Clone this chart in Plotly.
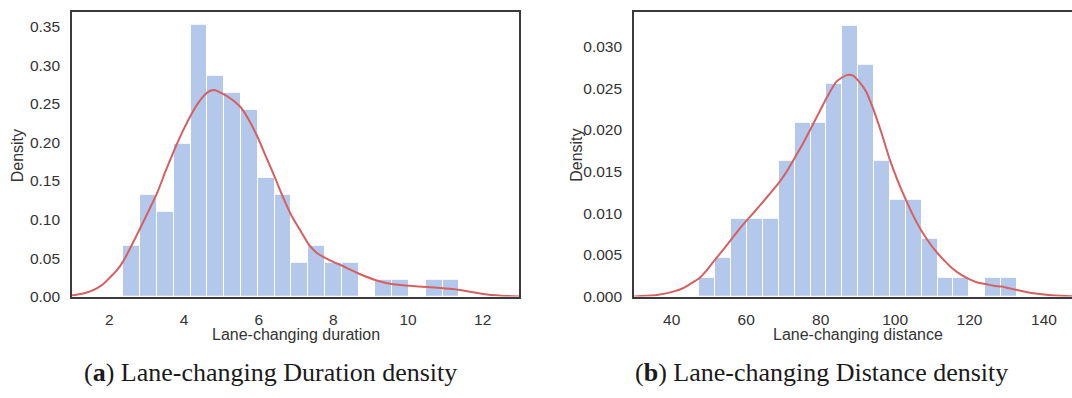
import numpy as np
import plotly.graph_objects as go

# ---------------- data ----------------
# (a) Lane-changing duration histogram: 20 equal bins from 2.375 to 11.375
duration_bin_min = 2.375
duration_bin_max = 11.375
duration_density = [0.066, 0.132, 0.110, 0.198, 0.352, 0.286, 0.264, 0.242, 0.154, 0.132,
                    0.044, 0.066, 0.044, 0.044, 0.0, 0.022, 0.022, 0.0, 0.022, 0.022]
duration_kde_x = [1.0, 1.3, 1.6, 1.83, 2.0, 2.2, 2.375, 2.55, 2.82, 3.05, 3.285, 3.5, 3.73,
                  3.96, 4.19, 4.42, 4.63, 4.8, 5.08, 5.3, 5.53, 5.75, 5.97, 6.2, 6.44, 6.66,
                  6.88, 7.1, 7.35, 7.55, 7.79, 8.0, 8.24, 8.45, 8.67, 9.16, 9.6, 10.05, 10.5,
                  10.94, 11.2, 11.39, 11.7, 12.01, 12.5, 13.0]
duration_kde_y = [0.0015, 0.004, 0.009, 0.016, 0.024, 0.034, 0.046, 0.062, 0.088, 0.111,
                  0.135, 0.162, 0.189, 0.214, 0.236, 0.254, 0.265, 0.268, 0.262, 0.255,
                  0.245, 0.228, 0.207, 0.181, 0.154, 0.128, 0.105, 0.087, 0.067, 0.057,
                  0.050, 0.045, 0.040, 0.035, 0.030, 0.021, 0.016, 0.014, 0.0125, 0.011,
                  0.0098, 0.0085, 0.006, 0.0034, 0.0012, 0.0003]

# (b) Lane-changing distance histogram: 20 equal bins from 47.41 to 132.75
distance_bin_min = 47.41
distance_bin_max = 132.75
distance_density = [0.00232, 0.00464, 0.00928, 0.00928, 0.00928, 0.01624, 0.02088, 0.02088,
                    0.02552, 0.03248, 0.02784, 0.01624, 0.0116, 0.0116, 0.00696, 0.00232,
                    0.00232, 0.0, 0.00232, 0.00232]
distance_kde_x = [29.9, 33.0, 36.0, 40.4, 43.0, 44.9, 47.4, 49.5, 51.6, 53.8, 55.9, 58.0,
                  60.1, 62.3, 64.4, 66.5, 68.7, 70.9, 73.0, 75.2, 77.3, 79.5, 81.6, 84.3,
                  87.0, 88.7, 90.1, 92.2, 94.3, 96.5, 98.6, 100.8, 103.0, 105.1, 107.2,
                  109.3, 111.4, 113.5, 115.6, 117.8, 119.9, 122.1, 124.4, 126.5, 128.6,
                  130.6, 132.7, 135.8, 138.9, 143.0, 147.5]
distance_kde_y = [0.00002, 0.0001, 0.0002, 0.0006, 0.0010, 0.0015, 0.0022, 0.0032, 0.0044,
                  0.0056, 0.0068, 0.0080, 0.0091, 0.0102, 0.0113, 0.0124, 0.0136, 0.0150,
                  0.0166, 0.0183, 0.0201, 0.0220, 0.0238, 0.0258, 0.02655, 0.0265, 0.0259,
                  0.0246, 0.0223, 0.0194, 0.0164, 0.0138, 0.0115, 0.0095, 0.0078, 0.0064,
                  0.0052, 0.0042, 0.0033, 0.0026, 0.0021, 0.0017, 0.0015, 0.0013, 0.0012,
                  0.0010, 0.0008, 0.0005, 0.0003, 0.00012, 0.00005]

duration_ticks = [2, 4, 6, 8, 10, 12]
duration_yticks = [0.0, 0.05, 0.10, 0.15, 0.20, 0.25, 0.30, 0.35]
distance_ticks = [40, 60, 80, 100, 120, 140]
distance_yticks = [0.0, 0.005, 0.010, 0.015, 0.020, 0.025, 0.030]

x_title_a = "Lane-changing duration"
x_title_b = "Lane-changing distance"
y_title = "Density"
caption_a = "(<b>a</b>) Lane-changing Duration density"
caption_b = "(<b>b</b>) Lane-changing Distance density"

# ---------------- styles ----------------
BAR_COLOR = "#B4C8EC"
KDE_COLOR = "#D65F5F"
FRAME = "#3a3a3a"
TEXT = "#333333"
FONT = "Liberation Sans, Arial, sans-serif"
SERIF = "Liberation Serif, Times New Roman, serif"

W, H = 1072, 398


def bins(lo, hi, n):
    edges = np.linspace(lo, hi, n + 1)
    return (edges[:-1] + edges[1:]) / 2, edges[1] - edges[0]


dc, dw = bins(duration_bin_min, duration_bin_max, len(duration_density))
sc, sw = bins(distance_bin_min, distance_bin_max, len(distance_density))

fig = go.Figure()
fig.add_trace(go.Bar(x=dc, y=duration_density, width=dw,
                     marker=dict(color=BAR_COLOR, line=dict(color="white", width=1)),
                     xaxis="x", yaxis="y", showlegend=False))
fig.add_trace(go.Scatter(x=duration_kde_x, y=duration_kde_y, mode="lines",
                         line=dict(color=KDE_COLOR, width=2, shape="spline", smoothing=0.6),
                         xaxis="x", yaxis="y", showlegend=False))
fig.add_trace(go.Bar(x=sc, y=distance_density, width=sw,
                     marker=dict(color=BAR_COLOR, line=dict(color="white", width=1)),
                     xaxis="x2", yaxis="y2", showlegend=False))
fig.add_trace(go.Scatter(x=distance_kde_x, y=distance_kde_y, mode="lines",
                         line=dict(color=KDE_COLOR, width=2, shape="spline", smoothing=0.6),
                         xaxis="x2", yaxis="y2", showlegend=False))

# plot-area geometry in pixels
L1, R1 = 72, 519.3
L2, R2 = 634, 1072
TOP, BOT = 12, 302.7

ydom = [1 - BOT / H, 1 - TOP / H]
tickfont = dict(family=FONT, size=15.5, color=TEXT)
titlefont = dict(family=FONT, size=16, color=TEXT)

common_x = dict(showgrid=False, zeroline=False, showline=True, linecolor=FRAME, linewidth=1.6,
                ticks="outside", ticklen=8, tickcolor="rgba(0,0,0,0)", tickfont=tickfont)
common_y = dict(showgrid=False, zeroline=False, showline=True, linecolor=FRAME, linewidth=1.6,
                ticks="outside", ticklen=7, tickcolor="rgba(0,0,0,0)", tickfont=tickfont)

fig.update_layout(
    width=W, height=H, margin=dict(l=0, r=0, t=0, b=0),
    paper_bgcolor="white", plot_bgcolor="white", barmode="overlay", bargap=0,
    xaxis=dict(domain=[L1 / W, R1 / W], range=[1.0, 12.98], tickvals=duration_ticks,
               anchor="y", mirror=True, **common_x),
    yaxis=dict(domain=ydom, range=[0, 0.3695], tickvals=duration_yticks, tickformat=".2f",
               anchor="x", mirror=True, **common_y),
    xaxis2=dict(domain=[L2 / W, R2 / W], range=[29.87, 147.52], tickvals=distance_ticks,
                anchor="y2", mirror=True, **common_x),
    yaxis2=dict(domain=ydom, range=[0, 0.03415], tickvals=distance_yticks, tickformat=".3f",
                anchor="x2", mirror=False, **common_y),
)

ann = []
ann.append(dict(text=x_title_a, x=(L1 + R1) / 2 / W, y=1 - 341 / H, xref="paper", yref="paper",
                showarrow=False, font=titlefont, xanchor="center", yanchor="middle"))
ann.append(dict(text=x_title_b, x=(L2 + 1081) / 2 / W, y=1 - 341 / H, xref="paper", yref="paper",
                showarrow=False, font=titlefont, xanchor="center", yanchor="middle"))
ann.append(dict(text=y_title, x=17.5 / W, y=1 - 159 / H, xref="paper", yref="paper", textangle=-90,
                showarrow=False, font=titlefont, xanchor="center", yanchor="middle"))
ann.append(dict(text=y_title, x=577 / W, y=1 - 159 / H, xref="paper", yref="paper", textangle=-90,
                showarrow=False, font=titlefont, xanchor="center", yanchor="middle"))
ann.append(dict(text=caption_a, x=270.5 / W, y=1 - 380 / H, xref="paper", yref="paper",
                showarrow=False, font=dict(family=SERIF, size=26, color="#1a1a1a"),
                xanchor="center", yanchor="middle"))
ann.append(dict(text=caption_b, x=821.5 / W, y=1 - 380 / H, xref="paper", yref="paper",
                showarrow=False, font=dict(family=SERIF, size=26, color="#1a1a1a"),
                xanchor="center", yanchor="middle"))
fig.update_layout(annotations=ann)

fig.write_html("out.html")
